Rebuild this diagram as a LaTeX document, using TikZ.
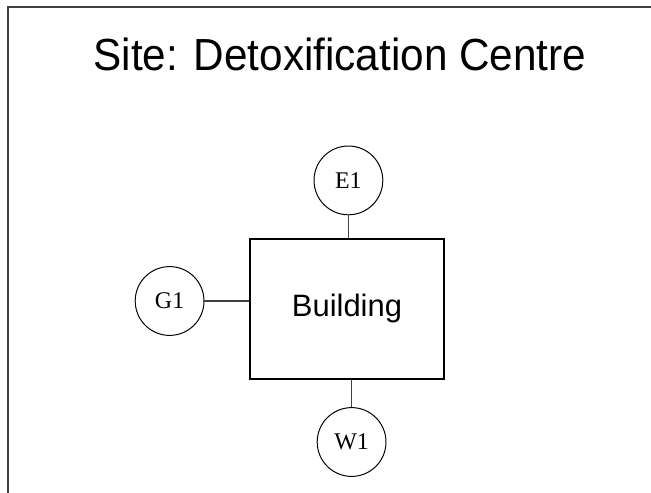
\documentclass[tikz,border=0pt]{standalone}
\usepackage{fontspec}
\setmainfont{Liberation Sans}
\newfontfamily\meterfont{Liberation Serif}
\begin{document}
\begin{tikzpicture}[
  meter/.style={draw, circle, line width=0.7pt, minimum size=1.72cm, inner sep=0pt, font=\meterfont\fontsize{17}{17}\selectfont},
  link/.style={draw=black!75, line width=0.8pt}]
\useasboundingbox (0,0) rectangle (16.275,-12.325);
\draw[line width=1.4pt, black!75] (16.275,-0.175) -- (0.2,-0.175) -- (0.2,-12.325);

\node[anchor=base, xscale=0.94, font=\fontsize{32}{38}\selectfont] (title) at (8.5,-1.75) {Site: Detoxification Centre};

\node[draw, line width=1pt, minimum width=4.85cm, minimum height=3.5cm, font=\fontsize{22}{26}\selectfont] (bld) at (8.675,-7.725) {Building};

\node[meter] (e1) at (8.71,-4.51) {E1};
\node[meter] (g1) at (4.24,-7.525) {G1};
\node[meter] (w1) at (8.79,-11.05) {W1};

\draw[link] (e1) -- (e1 |- bld.north);
\draw[link] (g1) -- (g1 -| bld.west);
\draw[link] (w1) -- (w1 |- bld.south);
\end{tikzpicture}
\end{document}
